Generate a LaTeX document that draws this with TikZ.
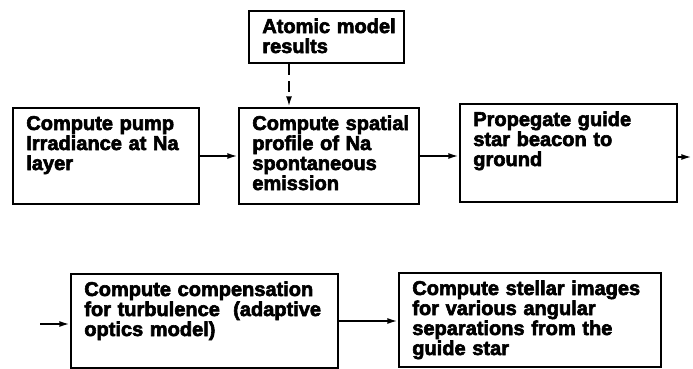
\documentclass[tikz,border=0pt]{standalone}
\usepackage{fontspec}
\usetikzlibrary{arrows.meta}
\newfontfamily\boxfont[FakeBold=3]{Liberation Sans Bold}
\newcommand\boxtext[1]{\leftskip=7pt\relax #1\par}

\tikzset{
  procbox/.style={draw, line width=1.5pt, anchor=north west, align=left,
    inner xsep=3pt, inner ysep=5.5pt, text height=11pt,
    font=\fontsize{15}{15}\selectfont\boxfont},
  link/.style={line width=1.5pt, -{Latex[length=8pt,width=4.5pt]}}
}

\begin{document}
\begin{tikzpicture}[x=0.75pt, y=-0.75pt]

\useasboundingbox (0,0) rectangle (693,368);

% NODES %%%%%%%%%%%%%%%%%%%%%%%%%%%%%%%%%%%%%%%%%%%%%%%%%%%%%%%%%%%%%%%%%%

\node[procbox, minimum width=116.25pt, text width=110.25pt, text depth=17pt] (atomic) at (248,10) {\boxtext{Atomic model\\results}};

\node[procbox, minimum width=139.5pt, text width=133.5pt, text depth=50pt] (pump) at (12,107) {\boxtext{Compute pump\\Irradiance at Na\\layer}};
\node[procbox, minimum width=135pt, text width=129pt, text depth=50pt] (profile) at (238,107) {\boxtext{Compute spatial\\profile of Na\\spontaneous\\emission}};
\node[procbox, minimum width=162.75pt, text width=156.75pt, text depth=51.5pt] (beacon) at (459,103) {\boxtext{Propegate guide\\star beacon to\\ground}};

\node[procbox, minimum width=200.25pt, text width=194.25pt, text depth=48.5pt] (comp) at (70,273) {\boxtext{Compute compensation\\for turbulence~ (adaptive\\optics model)}};
\node[procbox, minimum width=196.5pt, text width=190.5pt, text depth=48.5pt] (images) at (398,272) {\boxtext{Compute stellar images\\for various angular\\separations from the\\guide star}};

\coordinate (dashx) at (289,0);
\coordinate (exit) at (692,157);
\coordinate (entry) at (40,324);

% LINKS %%%%%%%%%%%%%%%%%%%%%%%%%%%%%%%%%%%%%%%%%%%%%%%%%%%%%%%%%%%%%%%%%%

\draw[link, dash pattern=on 8pt off 5pt] (atomic.south -| dashx) -- (profile.north -| dashx);

\draw[link] (pump.east) -- (profile.west);
\draw[link] (profile.east) -- (profile.east -| beacon.west);
\draw[link] (beacon.east |- exit) -- (exit);

\draw[link] (entry) -- (entry -| comp.west);
\draw[link] (comp.east) -- (comp.east -| images.west);

\end{tikzpicture}
\end{document}
